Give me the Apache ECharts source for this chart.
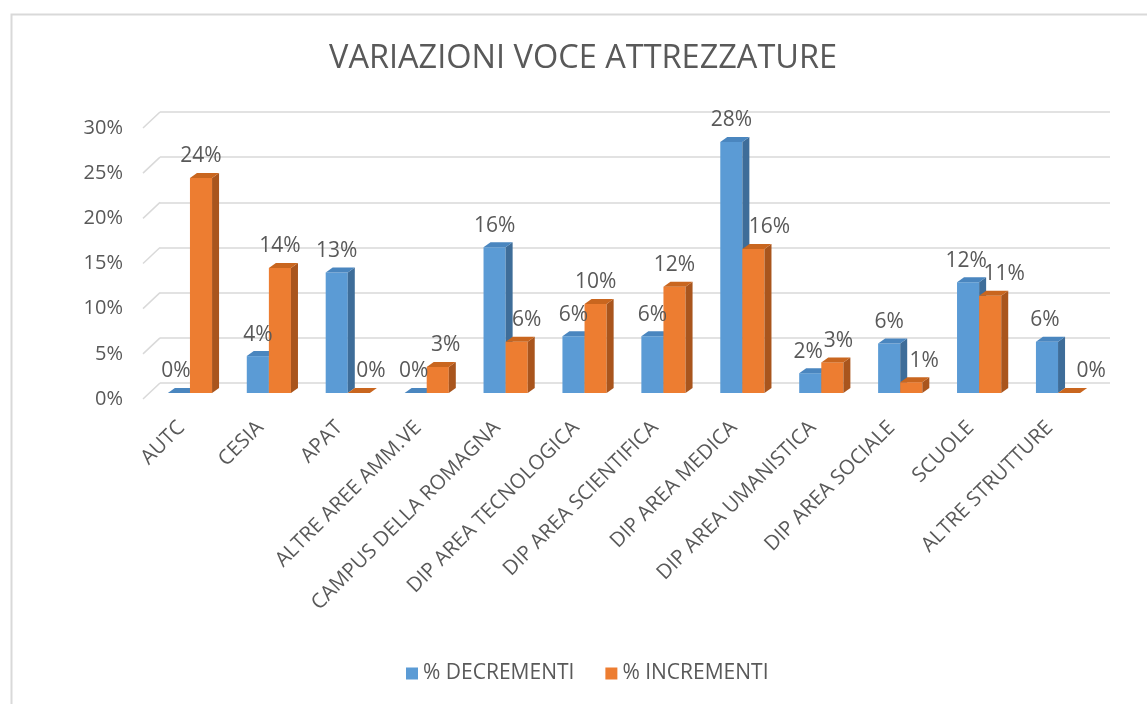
<!DOCTYPE html>
<html>
<head>
<meta charset="utf-8">
<script src="https://cdn.jsdelivr.net/npm/echarts@6/dist/echarts.min.js"></script>
<style>
  html, body { margin: 0; padding: 0; background: #fff; }
  #tu { width: 1147px; height: 704px; }
</style>
</head>
<body>
<div id="tu"></div>
<script>
var categorie = ['AUTC', 'CESIA', 'APAT', 'ALTRE AREE AMM.VE', 'CAMPUS DELLA ROMAGNA',
  'DIP AREA TECNOLOGICA', 'DIP AREA SCIENTIFICA', 'DIP AREA MEDICA',
  'DIP AREA UMANISTICA', 'DIP AREA SOCIALE', 'SCUOLE', 'ALTRE STRUTTURE'];
var decrementi = [0, 4.1, 13.4, 0, 16.2, 6.3, 6.3, 27.9, 2.2, 5.5, 12.3, 5.7];
var incrementi = [23.9, 13.9, 0, 2.9, 5.7, 9.9, 11.8, 16.0, 3.4, 1.2, 10.8, 0];
var tickY = [0, 5, 10, 15, 20, 25, 30];

// spostamenti orizzontali delle etichette (px), come le sposta Excel per non sovrapporle
var spostaDec = [-3, 0, 0, -2, 0, 0, 0, 0, -2, 0, -2, -2];
var spostaInc = [0, 0, 12, 8, 10, 0, 0, 16, 6, 13, 14, 22];

var myChart = echarts.init(document.getElementById('tu'));
var font = '"Open Sans", sans-serif';
var grigio = '#595959';

// barra con lato e cima in finto 3D
function barra3d(offset, front, side, top) {
  return function (params, api) {
    var cat = api.value(0);
    var v = api.value(1);
    var base = api.coord([cat, 0]);
    var alto = api.coord([cat, v]);
    var w = api.size([1, 0])[0] * 0.28;
    var x0 = base[0] + offset * w;
    var yb = base[1], yt = alto[1];
    var dx = 7, dy = 5;
    return {
      type: 'group',
      children: [
        { type: 'rect', shape: { x: x0, y: yt, width: w, height: yb - yt }, style: { fill: front } },
        { type: 'polygon', shape: { points: [[x0 + w, yt], [x0 + w + dx, yt - dy], [x0 + w + dx, yb - dy], [x0 + w, yb]] }, style: { fill: side } },
        { type: 'polygon', shape: { points: [[x0, yt], [x0 + dx, yt - dy], [x0 + w + dx, yt - dy], [x0 + w, yt]] }, style: { fill: top } }
      ]
    };
  };
}

function etichette(offset, sposta) {
  return function (params, api) {
    var cat = api.value(0);
    var v = api.value(1);
    var base = api.coord([cat, 0]);
    var alto = api.coord([cat, v]);
    var w = api.size([1, 0])[0] * 0.28;
    var x = base[0] + offset * w + w / 2 + sposta[params.dataIndex];
    return { type: 'text', style: { x: x, y: alto[1] - 11, text: Math.round(v) + '%', fill: grigio,
      font: '21px ' + font, textAlign: 'center', textVerticalAlign: 'bottom' } };
  };
}

var option = {
  backgroundColor: '#fff',
  title: {
    text: 'VARIAZIONI VOCE ATTREZZATURE',
    left: 324, top: 37,
    textStyle: { fontFamily: font, fontSize: 32.5, fontWeight: 'normal', color: grigio }
  },
  graphic: [{
    type: 'rect', left: 9, top: 12, silent: true,
    shape: { width: 1400, height: 900 },
    style: { fill: 'none', stroke: '#d9d9d9', lineWidth: 2 }
  }],
  legend: {
    bottom: 15, left: 401,
    itemWidth: 12, itemHeight: 12, itemGap: 31,
    icon: 'rect',
    textStyle: { fontFamily: font, fontSize: 21, color: grigio },
    data: ['% DECREMENTI', '% INCREMENTI']
  },
  grid: [
    { left: 160, right: 37, top: 112, bottom: 321 },
    { left: 143, right: 37, top: 128, bottom: 305 },
    { left: 150.5, right: 49.5, top: 123, bottom: 311 }
  ],
  xAxis: [
    { gridIndex: 0, type: 'value', min: 0, max: 1, show: false },
    { gridIndex: 1, type: 'value', min: 0, max: 1, show: false },
    { gridIndex: 2, type: 'category', data: categorie,
      axisLine: { show: false }, axisTick: { show: false },
      axisLabel: { interval: 0, rotate: 45, margin: 23, padding: [0, 12, 0, 0],
        fontFamily: font, fontSize: 20.5, color: grigio } }
  ],
  yAxis: [
    { gridIndex: 0, type: 'value', min: 0, max: 30, interval: 5,
      axisLabel: { show: false }, axisLine: { show: false }, axisTick: { show: false },
      splitLine: { lineStyle: { color: '#d9d9d9', width: 1.5 } } },
    { gridIndex: 1, type: 'value', min: 0, max: 30, interval: 5,
      axisLine: { show: false }, axisTick: { show: false }, splitLine: { show: false },
      axisLabel: { formatter: '{value}%', margin: 20, fontFamily: font, fontSize: 20, color: grigio } },
    { gridIndex: 2, type: 'value', min: 0, max: 30, show: false }
  ],
  series: [
    {
      type: 'custom', xAxisIndex: 0, yAxisIndex: 0, silent: true,
      data: tickY.map(function (t) { return [0, t]; }),
      renderItem: function (params, api) {
        var p = api.coord([0, api.value(1)]);
        return { type: 'line', shape: { x1: p[0] - 17, y1: p[1] + 16, x2: p[0], y2: p[1] },
          style: { stroke: '#d9d9d9', lineWidth: 1.5 } };
      }
    },
    {
      name: '% DECREMENTI', type: 'custom', xAxisIndex: 2, yAxisIndex: 2,
      itemStyle: { color: '#5b9bd5' },
      data: decrementi.map(function (v, i) { return [i, v]; }),
      renderItem: barra3d(-1, '#5b9bd5', '#3e6d99', '#4a86bf')
    },
    {
      name: '% INCREMENTI', type: 'custom', xAxisIndex: 2, yAxisIndex: 2,
      itemStyle: { color: '#ed7d31' },
      data: incrementi.map(function (v, i) { return [i, v]; }),
      renderItem: barra3d(0, '#ed7d31', '#a9551d', '#c9661f')
    },
    {
      type: 'custom', xAxisIndex: 2, yAxisIndex: 2, z: 10, silent: true,
      data: decrementi.map(function (v, i) { return [i, v]; }),
      renderItem: etichette(-1, spostaDec)
    },
    {
      type: 'custom', xAxisIndex: 2, yAxisIndex: 2, z: 10, silent: true,
      data: incrementi.map(function (v, i) { return [i, v]; }),
      renderItem: etichette(0, spostaInc)
    }
  ]
};

myChart.setOption(option);
</script>
</body>
</html>
